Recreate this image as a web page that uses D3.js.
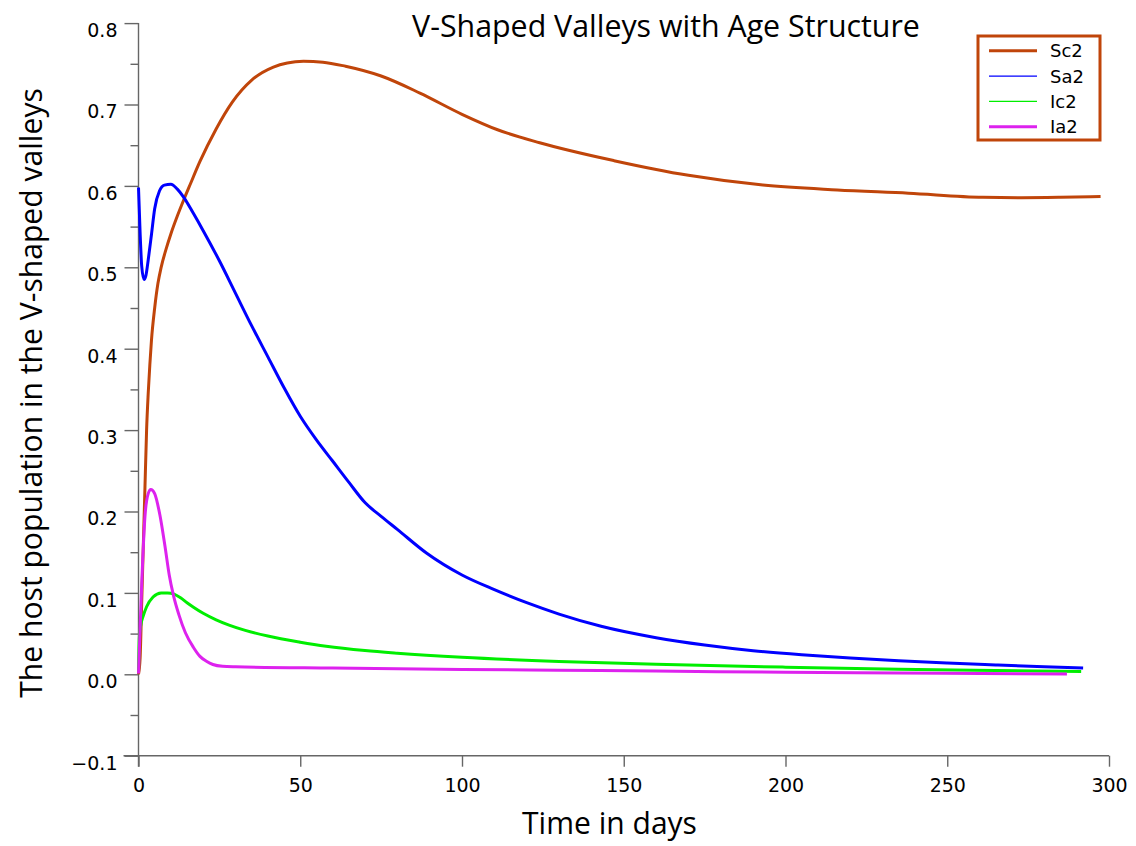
<!DOCTYPE html>
<html>
<head>
<meta charset="utf-8">
<script src="https://cdn.jsdelivr.net/npm/d3@7"></script>
<style>
  html, body { margin: 0; padding: 0; background: #fff; }
  svg { display: block; }
</style>
</head>
<body>
<svg id="chart" width="1136" height="846"></svg>
<script>
// ---- data ----
const seriesNames = ["Sc2", "Sa2", "Ic2", "Ia2"];

const sc2T = [0, 0.5, 1, 1.5, 2, 2.5, 3, 3.5, 4, 5, 6, 7, 8.5, 10, 12, 14, 16, 19, 24, 29, 35, 41.7, 46, 51, 57, 64, 75, 87, 100, 111, 124, 147, 170, 193, 216, 238, 261, 273, 285, 297.4];
const sc2V = [0, 0.02, 0.09, 0.16, 0.23, 0.30, 0.345, 0.38, 0.41, 0.45, 0.48, 0.50, 0.522, 0.541, 0.563, 0.583, 0.602, 0.630, 0.670, 0.703, 0.730, 0.746, 0.751, 0.753, 0.752, 0.747, 0.735, 0.714, 0.688, 0.669, 0.653, 0.631, 0.613, 0.601, 0.595, 0.591, 0.586, 0.5855, 0.586, 0.587];

const sa2T = [0, 0.5, 1, 1.7, 2.3, 3, 4, 5, 6.5, 8, 10, 12, 14, 17, 20, 25, 30, 35, 40, 45, 50, 55, 60, 65, 70, 75, 80, 89, 100, 110, 120, 130, 143, 160, 175, 190, 205, 220, 235, 250, 265, 280, 292];
const sa2V = [0.598, 0.542, 0.501, 0.485, 0.49, 0.509, 0.54, 0.572, 0.594, 0.601, 0.602, 0.596, 0.586, 0.566, 0.545, 0.508, 0.468, 0.428, 0.390, 0.352, 0.317, 0.288, 0.262, 0.236, 0.211, 0.194, 0.178, 0.149, 0.122, 0.104, 0.088, 0.074, 0.059, 0.045, 0.036, 0.029, 0.024, 0.020, 0.0165, 0.0138, 0.0115, 0.0093, 0.0077];

const ic2T = [0, 0.25, 0.6, 1.5, 2.5, 4.5, 7, 9, 11, 13, 15, 17, 20, 24, 28, 33, 40, 50, 58, 70, 80, 100, 130, 160, 200, 235, 265, 291.4];
const ic2V = [0.003, 0.045, 0.058, 0.072, 0.083, 0.095, 0.100, 0.100, 0.0985, 0.094, 0.088, 0.0825, 0.075, 0.067, 0.0605, 0.054, 0.047, 0.0395, 0.0345, 0.0292, 0.026, 0.021, 0.0158, 0.0122, 0.0088, 0.0063, 0.0047, 0.0034];

const ia2T = [0, 1, 2, 3, 3.8, 5, 6.6, 8.2, 9.5, 10.8, 12.5, 14.5, 17, 19, 21, 23, 26, 30, 60, 100, 130, 160, 200, 235, 287];
const ia2V = [0.001, 0.112, 0.194, 0.222, 0.227, 0.222, 0.196, 0.157, 0.122, 0.097, 0.073, 0.051, 0.033, 0.022, 0.016, 0.012, 0.0098, 0.0092, 0.0076, 0.006, 0.005, 0.004, 0.0025, 0.0015, 0.0005];

const xTicks = [0, 50, 100, 150, 200, 250, 300];
const yTicks = [-0.1, 0.0, 0.1, 0.2, 0.3, 0.4, 0.5, 0.6, 0.7, 0.8];
const yMinorTicks = [-0.05, 0.05, 0.15, 0.25, 0.35, 0.45, 0.55, 0.65, 0.75];

const titleText = "V-Shaped Valleys with Age Structure";
const xTitle = "Time in days";
const yTitle = "The host population in the V-shaped valleys";

// ---- styles ----
const colors = { Sc2: "#c0450a", Sa2: "#0000ff", Ic2: "#00ee00", Ia2: "#dd22ee" };
const legendWidths = { Sc2: 3, Sa2: 1.3, Ic2: 1.3, Ia2: 3 };
const axisColor = "#666";
const tickFont = "DejaVu Sans, Verdana, sans-serif";
const titleFont = "'Open Sans', 'Noto Sans', sans-serif";

const svg = d3.select("#chart");

const x = d3.scaleLinear().domain([0, 300]).range([138.5, 1109]);
const y = d3.scaleLinear().domain([-0.1, 0.8]).range([755.7, 23.1]);

const series = [
  { name: "Sc2", t: sc2T, v: sc2V },
  { name: "Sa2", t: sa2T, v: sa2V },
  { name: "Ic2", t: ic2T, v: ic2V },
  { name: "Ia2", t: ia2T, v: ia2V }
];

// ---- axes ----
const yAxisG = svg.append("g").attr("transform", `translate(${x(0)},0)`)
  .call(d3.axisLeft(y).tickValues(yTicks).tickSize(14).tickPadding(7).tickFormat(d3.format(".1f")));
yAxisG.select(".domain").remove();
yAxisG.selectAll(".tick line").attr("stroke", axisColor).attr("stroke-width", 1.4);
yAxisG.selectAll(".tick text").attr("font-family", tickFont).attr("font-size", 19)
  .attr("fill", "#000").attr("dy", "0.7em");

const yMinorG = svg.append("g").attr("transform", `translate(${x(0)},0)`)
  .call(d3.axisLeft(y).tickValues(yMinorTicks).tickSize(8).tickFormat(""));
yMinorG.select(".domain").remove();
yMinorG.selectAll(".tick line").attr("stroke", axisColor).attr("stroke-width", 1.4);

const xAxisG = svg.append("g").attr("transform", `translate(0,${y(-0.1)})`)
  .call(d3.axisBottom(x).tickValues(xTicks).tickSize(11).tickPadding(11.5).tickFormat(d3.format("d")));
xAxisG.select(".domain").remove();
xAxisG.selectAll(".tick line").attr("stroke", axisColor).attr("stroke-width", 1.4);
xAxisG.selectAll(".tick text").attr("font-family", tickFont).attr("font-size", 19).attr("fill", "#000");

// axis spines
svg.append("line").attr("x1", x(0)).attr("x2", x(0)).attr("y1", y(0.8)).attr("y2", y(-0.1) + 11)
  .attr("stroke", axisColor).attr("stroke-width", 1.4);
svg.append("line").attr("x1", x(0) - 15).attr("x2", x(300)).attr("y1", y(-0.1)).attr("y2", y(-0.1))
  .attr("stroke", axisColor).attr("stroke-width", 1.4);

// ---- lines ----
const line = d3.line().x(d => x(d[0])).y(d => y(d[1])).curve(d3.curveMonotoneX);
series.forEach(s => {
  const pts = s.t.map((t, i) => [t, s.v[i]]);
  svg.append("path").datum(pts)
    .attr("d", line)
    .attr("fill", "none")
    .attr("stroke", colors[s.name])
    .attr("stroke-width", 3)
    .attr("stroke-linejoin", "round");
});

// ---- titles ----
function fit(sel, target) {
  const len = sel.node().getComputedTextLength();
  const fs = parseFloat(sel.attr("font-size"));
  sel.attr("font-size", fs * target / len);
}
const tt = svg.append("text").attr("x", 666).attr("y", 37).attr("text-anchor", "middle")
  .attr("font-family", titleFont).attr("font-size", 28).attr("fill", "#000").text(titleText);
fit(tt, 508);

const xt = svg.append("text").attr("x", 609.5).attr("y", 834).attr("text-anchor", "middle")
  .attr("font-family", titleFont).attr("font-size", 28).attr("fill", "#000").text(xTitle);
fit(xt, 175);

const yt = svg.append("text").attr("transform", "translate(42,393) rotate(-90)").attr("text-anchor", "middle")
  .attr("font-family", titleFont).attr("font-size", 28).attr("fill", "#000").text(yTitle);
fit(yt, 610);

// ---- legend ----
const lg = svg.append("g");
lg.append("rect").attr("x", 978).attr("y", 36).attr("width", 122).attr("height", 104)
  .attr("fill", "#fff").attr("stroke", colors.Sc2).attr("stroke-width", 3);
const rowY = d3.scalePoint().domain(seriesNames).range([50.7, 126.7]);
seriesNames.forEach(n => {
  lg.append("line").attr("x1", 989).attr("x2", 1037).attr("y1", rowY(n)).attr("y2", rowY(n))
    .attr("stroke", colors[n]).attr("stroke-width", legendWidths[n]);
  lg.append("text").attr("x", 1050).attr("y", rowY(n) + 6.5)
    .attr("font-family", tickFont).attr("font-size", 18).attr("fill", "#000").text(n);
});
</script>
</body>
</html>
